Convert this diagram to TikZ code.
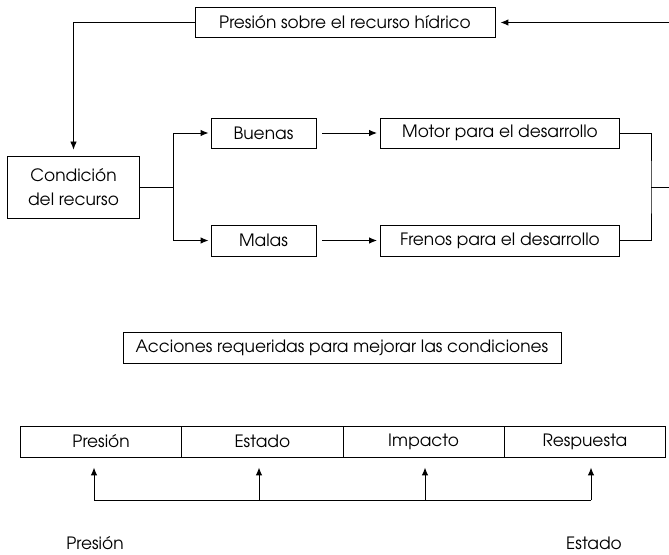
\documentclass[tikz,border=0pt]{standalone}
\usepackage{fontspec}
\setmainfont{TeX Gyre Adventor}
\usetikzlibrary{arrows.meta, positioning, calc}

\begin{document}
\begin{tikzpicture}[x=1pt, y=-1pt, >={Latex[length=8pt,width=6.5pt]},
    box/.style={draw, line width=0.9pt, inner sep=0pt, minimum height=30pt,
      font=\fontsize{17}{21}\selectfont, align=center},
    link/.style={line width=1pt},
    thinlink/.style={line width=0.6pt}]
  \useasboundingbox (0,0) rectangle (669,554);
  % upper loop
  \node[box, minimum width=300pt] (pres) at (345,22.5)
    {Presión sobre el recurso hídrico};
  \node[box, minimum width=132pt, minimum height=62pt] (cond) at (73.5,187.5)
    {Condición\\[3pt]del recurso};
  \node[box, minimum width=105pt] (buenas) at (263.5,133) {Buenas};
  \node[box, minimum width=105pt, minimum height=31pt] (malas) at (263.5,240.5) {Malas};
  \node[box, minimum width=239pt] (motor) at (500,133) {Motor para el desarrollo};
  \node[box, minimum width=239pt, minimum height=31pt] (frenos) at (500,240.5) {Frenos para el desarrollo};
  \coordinate (split) at (173,187.5);
  \coordinate (join) at (651,187.5);
  \coordinate (edge) at (669,187.5);
  \coordinate (back) at (669,22.5);
  \draw[link, ->, shorten >=5pt] (back) -- (pres.east);
  \draw[thinlink, ->, shorten >=6.5pt] (pres.west) -| (cond.north);
  \draw[link] (cond.east) -- (split);
  \draw[link, ->, shorten >=2pt] (split) |- (buenas.west);
  \draw[link, ->, shorten >=2pt] (split) |- (malas.west);
  \draw[link, ->, shorten <=6pt, shorten >=3pt] (buenas.east) -- (motor.west);
  \draw[link, ->, shorten <=6pt, shorten >=3pt] (malas.east) -- (frenos.west);
  \draw[link] (motor.east) -| (join) |- (frenos.east);
  \draw[link] (join) -- (edge);
  % actions
  \node[box, minimum width=438pt, minimum height=31pt] (acc) at (342,347.5)
    {Acciones requeridas para mejorar las condiciones};
  % indicator row
  \node[box, minimum width=161.25pt, minimum height=31pt] (p1) at (101.1,441.5) {Presión};
  \node[box, minimum width=161.25pt, minimum height=31pt] (e1) at (262.4,441.5) {Estado};
  \node[box, minimum width=161.25pt, minimum height=31pt] (i1) at (423.6,441.5) {Impacto};
  \node[box, minimum width=161.25pt, minimum height=31pt] (r1) at (584.9,441.5) {Respuesta};
  \coordinate (a1) at (94,500);
  \coordinate (a2) at (259,500);
  \coordinate (a3) at (425,500);
  \coordinate (a4) at (591,500);
  \draw[link] (a1) -- (a4);
  \draw[link, ->, shorten >=10pt] (a1) -- (a1 |- p1.south);
  \draw[link, ->, shorten >=10pt] (a2) -- (a2 |- e1.south);
  \draw[link, ->, shorten >=10pt] (a3) -- (a3 |- i1.south);
  \draw[link, ->, shorten >=10pt] (a4) -- (a4 |- r1.south);
  \node[font=\fontsize{17}{21}\selectfont] (lblp) at (95,543) {Presión};
  \node[font=\fontsize{17}{21}\selectfont] (lble) at (594,543) {Estado};
\end{tikzpicture}
\end{document}
